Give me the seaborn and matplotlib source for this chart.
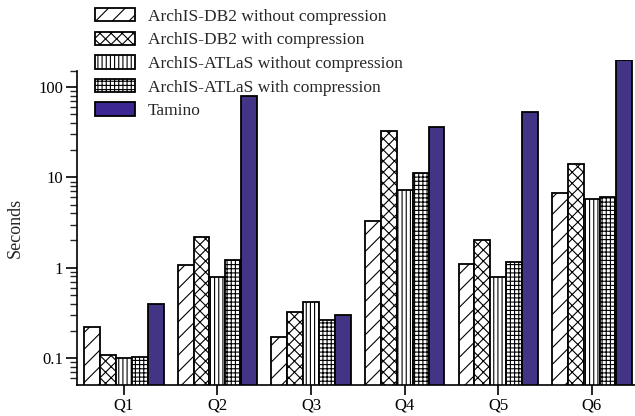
import matplotlib
matplotlib.use("Agg")
import matplotlib.pyplot as plt
import seaborn as sns
import pandas as pd
from matplotlib.patches import Patch

queries = ["Q1", "Q2", "Q3", "Q4", "Q5", "Q6"]
systems = ["ArchIS-DB2 without compression", "ArchIS-DB2 with compression",
           "ArchIS-ATLaS without compression", "ArchIS-ATLaS with compression",
           "Tamino"]
db2_nocomp = [0.218, 1.08, 0.172, 3.3, 1.11, 6.65]
db2_comp = [0.107, 2.18, 0.32, 32.6, 2.0, 14.0]
atlas_nocomp = [0.100, 0.78, 0.416, 7.2, 0.79, 5.7]
atlas_comp = [0.103, 1.2, 0.263, 11.1, 1.15, 6.05]
tamino = [0.40, 79.0, 0.296, 36.3, 52.5, 200.0]
ytick_vals = [0.1, 1, 10, 100]
ytick_labels = ["0.1", "1", "10", "100"]

series = [db2_nocomp, db2_comp, atlas_nocomp, atlas_comp, tamino]
rows = []
for s, vals in zip(systems, series):
    for q, v in zip(queries, vals):
        rows.append({"query": q, "system": s, "seconds": v})
df = pd.DataFrame(rows)

sns.set_style("ticks")
plt.rcParams["font.family"] = ["Liberation Serif", "DejaVu Serif"]
plt.rcParams["hatch.linewidth"] = 0.8

indigo = "#3c2792"
colors = ["white", "white", "white", "white", indigo]
hatches = ["//", "xxx", "||||", "++++", ""]
palette = dict(zip(systems, colors))

fig = plt.figure(figsize=(6.35, 4.16), dpi=100)
ax = fig.add_axes([77 / 635, 31 / 416, 558 / 635, 325 / 416])

sns.barplot(data=df, x="query", y="seconds", hue="system", hue_order=systems,
            order=queries, palette=palette, edgecolor="black", linewidth=1.3,
            width=0.85, errorbar=None, legend=False, ax=ax)
ax.set_yscale("log")

for cont, h in zip(ax.containers, hatches):
    for bar in cont:
        bar.set_hatch(h)
        bar.set_edgecolor("black")

ax.set_ylim(0.05, 200)
ax.set_xlim(-0.5, 5.46)
ax.set_yticks(ytick_vals, labels=ytick_labels)
minor = []
for dec in [0.01, 0.1, 1, 10]:
    for m in range(2, 10):
        val = m * dec
        if 0.05 < val < 100:
            minor.append(val)
minor.append(150)
ax.set_yticks(minor, minor=True)
ax.yaxis.set_minor_formatter(matplotlib.ticker.NullFormatter())

for side in ["top", "right"]:
    ax.spines[side].set_visible(False)
ax.spines["left"].set_bounds(0.05, 150)
for side in ["left", "bottom"]:
    ax.spines[side].set_linewidth(1.2)
    ax.spines[side].set_color("black")

ax.tick_params(axis="y", which="major", length=8, width=1.2, direction="out",
               labelsize=12, pad=2, colors="black")
ax.tick_params(axis="y", which="minor", length=5, width=1.0, direction="out")
ax.tick_params(axis="x", which="major", length=7, width=1.2, direction="out",
               labelsize=12, pad=2, colors="black")

ax.set_xlabel("")
ax.set_ylabel("Seconds", fontsize=13)
ax.yaxis.set_label_coords((24 - 77) / 558, (385 - 228) / 325)

handles = [Patch(facecolor=c, edgecolor="black", hatch=h, linewidth=1.3)
           for c, h in zip(colors, hatches)]
fig.legend(handles, systems, loc="upper left",
           bbox_to_anchor=(95 / 635, 1 - 8 / 416), bbox_transform=fig.transFigure,
           frameon=False, fontsize=12.5, handlelength=2.3, handleheight=0.8,
           handletextpad=0.75, labelspacing=0.4, borderpad=0, borderaxespad=0)

fig.savefig("out.png", dpi=100)
